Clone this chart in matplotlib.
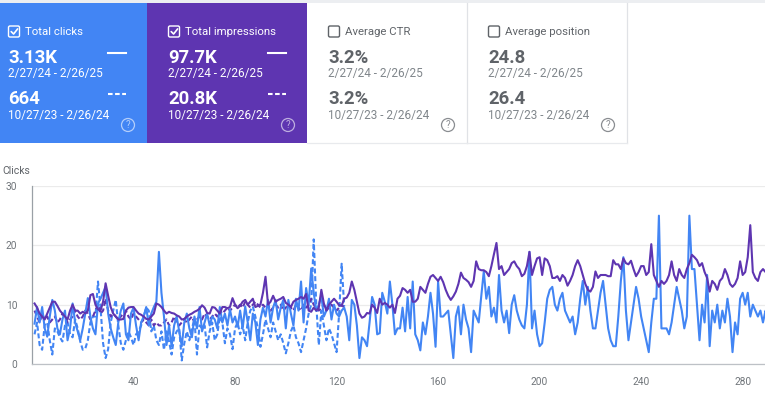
import matplotlib
matplotlib.use('Agg')
import matplotlib.pyplot as plt
from matplotlib.patches import Rectangle, Circle, FancyBboxPatch
import numpy as np

plt.rcParams['font.family'] = ['Roboto', 'DejaVu Sans']

# ---------------- data ----------------
card_titles = ["Total clicks", "Total impressions", "Average CTR", "Average position"]
card_current = ["3.13K", "97.7K", "3.2%", "24.8"]
card_previous = ["664", "20.8K", "3.2%", "26.4"]
period_current = "2/27/24 - 2/26/25"
period_previous = "10/27/23 - 2/26/24"

x_ticks = [40, 80, 120, 160, 200, 240, 280]
y_ticks = [0, 10, 20, 30]
y_label = "Clicks"

clicks_cur = [
    6.8, 9.6, 7, 9.6, 6, 4.6, 8, 10.8, 9, 6,
    5, 7.5, 9, 4, 6, 10.2, 7, 5.5, 4, 6,
    8.5, 11.1, 8, 6, 5, 10.2, 11, 12, 13, 8.5,
    6, 4.5, 3.2, 7, 9, 10.2, 5, 4, 8.5, 9.5,
    6.5, 4, 7, 8, 9.6, 6.5, 8.5, 9.6, 10.5, 18.9,
    12, 8, 3.2, 6.5, 3, 6.5, 8, 5.5, 3, 7,
    8.5, 6, 4.5, 8, 6, 9.6, 5.5, 7, 8.5, 6.5,
    8, 7.5, 6, 9.6, 7, 8.5, 6.5, 9.2, 7, 8,
    6.3, 9, 6, 9.7, 7, 4, 8.5, 7, 3.2, 7.5,
    9.5, 8, 10.8, 7, 9.5, 10.8, 7.5, 9.5, 10.8, 6,
    10.8, 8.5, 6.5, 11, 9, 13.9, 7, 12.8, 10, 16.1,
    12, 9, 10, 11.5, 8, 9, 11, 7.5, 10, 8.5,
    8, 9, 9.5, 8, 4, 10.8, 10, 6.5, 1, 4.5,
    4, 3, 7, 11.3, 10, 5, 5.2, 12, 10.5, 8.5,
    13.9, 10, 5, 6, 6, 9.5, 5.5, 11.3, 6, 13.9,
    5, 4, 2.3, 7, 5, 8, 12, 8.5, 2.9, 13.9,
    8, 8, 8.5, 9, 5, 1, 8, 9.7, 5, 10,
    7.5, 6, 2, 9, 8, 7, 11.4, 15.6, 11, 13,
    8, 9.5, 7, 15, 9, 7, 9, 5.2, 10, 11.6,
    9, 7.5, 6.5, 6, 10, 18.9, 6, 9, 5, 3,
    3.5, 7, 11, 12.5, 13, 10, 9, 11, 12, 9,
    8, 7, 8, 5, 7, 11, 14, 10, 13, 9,
    6, 6, 9, 12, 14, 10, 6, 4, 3, 3,
    8, 14, 18, 9, 4, 7, 10, 13, 11, 8,
    6, 4, 2, 7, 11, 11, 25, 6, 6, 6,
    5, 7, 10, 13, 11, 9, 6, 8, 25, 16,
    16, 10, 4, 10, 7, 15, 3, 9, 7, 10,
    6, 9, 7, 11, 8, 2, 7, 5, 11, 12,
    10, 12, 8, 10, 9, 8, 9, 7, 9, 8,
]

impr_cur = [
    10.2, 9.5, 8.5, 8, 7.5, 8.5, 9.5, 10.5, 10.5, 9.8,
    9, 8.5, 8, 7.5, 9, 10, 9, 9, 8.5, 8.8,
    8.5, 9, 11.6, 11.8, 10, 9.2, 9, 10.5, 13.6, 11.5,
    9.6, 8.5, 8, 7.5, 7.5, 7.6, 9, 9.5, 9.6, 9.6,
    9, 8.5, 8.3, 8, 7.6, 7.5, 8, 8.5, 10.2, 10,
    9.6, 9, 8.5, 8.8, 8.6, 8.5, 8.2, 8, 7.5, 7.6,
    8, 8.3, 8.5, 8.8, 9, 9.3, 9.9, 9.5, 8.6, 8.5,
    9.6, 9.5, 9, 8.5, 9.6, 9.6, 9.4, 9.6, 11.1, 10,
    9.4, 9.8, 10.5, 10.8, 10, 10.5, 11, 9.6, 9.8, 10,
    12, 14.7, 10, 10.5, 11.5, 10.5, 10.8, 11, 11.3, 10.3,
    10, 9.6, 10.5, 10.8, 11, 11.3, 11, 11.8, 9, 8.8,
    9.5, 9, 9.5, 12.5, 10.2, 9, 10, 10.5, 11, 10.5,
    9.9, 9.8, 11, 11.2, 12, 13.9, 12.5, 10.5, 8.5, 7.8,
    8, 8.6, 8.5, 10, 9.5, 8.6, 11, 10, 10.3, 10,
    9.5, 10, 8.6, 11, 11.5, 12.8, 12.5, 12, 12.5, 10.5,
    10.5, 11, 13, 12.5, 12, 13.5, 14.7, 15, 14.5, 14,
    14.7, 13.8, 12.5, 11.5, 10.8, 11.4, 12.2, 13.5, 15.4, 14.5,
    14.2, 13.8, 13, 14, 17.3, 16, 15.8, 15.8, 15.5, 14.8,
    16.5, 18.5, 20.4, 16, 16.5, 15, 15.5, 16, 17, 17.3,
    16.5, 16, 14.8, 15.2, 16.5, 18.9, 15, 16.5, 17.8, 18,
    15, 17.8, 17.5, 16.5, 14.5, 14.5, 14.8, 14, 15, 14.5,
    13.2, 14, 15, 16.5, 17.5, 16.5, 15, 13.5, 12.5, 12.2,
    13, 15.6, 14.5, 15, 15, 15, 14.8, 14.8, 17.5, 16.8,
    16.8, 16, 17.8, 17, 16.8, 17.4, 16, 14.8, 15.5, 16.5,
    16.5, 15, 15.5, 20.2, 15, 14, 13, 14, 13.5, 14,
    15, 17.3, 15, 14, 16, 15, 14.5, 16, 17, 18.4,
    18, 17.5, 16.5, 17, 15.5, 14.5, 12.2, 14, 13.5, 12.5,
    14, 14.5, 16, 15, 13.5, 13, 13.5, 14.5, 17.3, 15,
    15.5, 18, 23.4, 15.5, 14.5, 14, 15.5, 16, 15.5, 15.5,
]

clicks_prev = [
    5, 7, 3.2, 2.4, 6.6, 7, 4, 1.6, 6, 5.5,
    4.5, 3.8, 6.5, 7, 5, 4.5, 7.5, 6, 3.8, 2.4,
    2.6, 4, 7, 8, 8, 13.9, 9.5, 3.5, 1, 2.5,
    7, 9, 10.8, 6.5, 3.5, 2.4, 4, 5.5, 4.5, 3.2,
    5, 5.5, 6.5, 8, 9.5, 9, 5.5, 6.5, 4, 3.2,
    5.5, 2.4, 5.5, 3.8, 1.6, 4.5, 5.5, 6, 0.6, 3.5,
    5.5, 4, 6, 7.5, 1.6, 6.5, 6, 6.5, 2.8, 5.5,
    7, 4, 5, 8, 7, 3.5, 6, 5, 2.5, 6,
    7, 5, 6.5, 4, 7, 9, 9.7, 8, 6, 2.9,
    5, 7.5, 6, 4.5, 7, 5.5, 4, 5, 3.5, 1.8,
    3.5, 5.5, 6.5, 4.5, 3.5, 2, 4, 6, 8.5, 10,
    21, 10, 3.2, 9, 6.5, 4, 6, 5, 3.5, 2,
    8.5, 16.9, 9.7,
]

impr_prev = [
    9, 8, 7, 8.5, 7.5, 8, 7, 7.5, 8, 7,
    7.5, 8.5, 8, 7, 7.5, 8, 9, 8, 7.5, 8,
    9, 8.5, 7.5, 8, 9, 10, 8.5, 9, 11, 9,
    8, 8.5, 8, 7.5, 8, 8.5, 9, 8, 7.5, 8.5,
    8, 7.5, 7, 7.5, 7, 6.5, 7.5, 6.5, 7, 6.5,
    6.5, 7, 7.5, 6.5, 7, 8, 7, 6.5, 7, 7.5,
    7, 7.5, 8, 7, 7.5, 8, 7.5, 8.5, 8, 7.5,
    8, 8.5, 8, 9, 8.5, 9, 9.5, 9, 9.5, 10,
    9.5, 10, 9.5, 10.5, 10, 9.5, 10, 10.5, 10, 9.5,
    10, 9.5, 10, 9, 9.5, 10, 9.5, 10, 9, 9.5,
    10, 9.5, 9, 10, 9.5, 9, 10, 9.5, 10, 11,
    10, 9.5, 9, 9.5, 10, 9, 9.5, 10, 9.5, 9,
    9.5, 10, 9.5,
]

# ---------------- style ----------------
BLUE = '#4285f4'
PURPLE = '#5e35b1'
GRAY_TXT = '#5f6368'
GRAY_LT = '#80868b'
W, H = 765, 398

fig = plt.figure(figsize=(W / 100, H / 100), dpi=100)
bg = fig.add_axes([0, 0, 1, 1])
bg.set_xlim(0, W)
bg.set_ylim(H, 0)
bg.axis('off')

# top strip
bg.add_patch(Rectangle((0, 0), W, 3, color='#eceef1', lw=0, zorder=0))

card_x0 = [-13, 147, 307, 467]
card_w = 160
card_bg = [BLUE, PURPLE, 'white', 'white']
checked = [True, True, False, False]
card_top, card_bot = 3, 143

for i in range(4):
    x0 = card_x0[i]
    colored = card_bg[i] != 'white'
    fg = 'white' if colored else GRAY_TXT
    fg2 = 'white' if colored else GRAY_LT
    bg.add_patch(Rectangle((x0, card_top), card_w, card_bot - card_top,
                           facecolor=card_bg[i], edgecolor='none', zorder=1))
    if not colored:
        bg.plot([x0 + card_w, x0 + card_w], [card_top, card_bot], color='#e0e2e6', lw=0.9, zorder=2)
        bg.plot([x0, x0 + card_w], [card_bot, card_bot], color='#e8eaed', lw=0.9, zorder=2)
    # checkbox
    cb = FancyBboxPatch((x0 + 21.5, 26), 11, 11, boxstyle='round,pad=0,rounding_size=1.5',
                        facecolor='none', edgecolor=fg, lw=1.0, zorder=3)
    bg.add_patch(cb)
    if checked[i]:
        bg.plot([x0 + 24.2, x0 + 26.6, x0 + 30.6], [31.6, 34.0, 28.9], color='white', lw=1.2,
                solid_capstyle='round', zorder=4)
    bg.text(x0 + 38.5, 35.2, card_titles[i], color=fg, fontsize=8.2, va='baseline', ha='left', zorder=4)
    bg.text(x0 + 21, 63, card_current[i], color=fg, fontsize=13.3, fontweight='bold',
            va='baseline', ha='left', zorder=4)
    bg.text(x0 + 21, 77.5, period_current, color=fg2, fontsize=8.5, va='baseline', ha='left', zorder=4)
    bg.text(x0 + 21, 104, card_previous[i], color=fg, fontsize=13.3, fontweight='bold',
            va='baseline', ha='left', zorder=4)
    bg.text(x0 + 21, 118.5, period_previous, color=fg2, fontsize=8.5, va='baseline', ha='left', zorder=4)
    if colored:
        bg.plot([x0 + 121, x0 + 139], [52.5, 52.5], color='white', lw=1.5, zorder=4)
        bg.plot([x0 + 121, x0 + 139.5], [93.5, 93.5], color='white', lw=1.5, dashes=(2.2, 1.2), zorder=4)
    icol = (1, 1, 1, 0.6) if colored else '#8a8d91'
    bg.add_patch(Circle((x0 + 141, 125), 6.5, facecolor='none', edgecolor=icol, lw=0.9, zorder=4))
    bg.text(x0 + 141, 125.4, '?', color=icol, fontsize=7, ha='center', va='center', zorder=5)

bg.text(2, 171.5, y_label, color='#5f6368', fontsize=7.5, ha='left', va='center')

# ---------------- chart ----------------
ax = fig.add_axes([32 / W, (H - 364) / H, (W - 32) / W, (364 - 186) / H])
ax.set_facecolor('none')
x_cur = np.arange(1, len(clicks_cur) + 1)
x_prev = np.arange(1, len(clicks_prev) + 1)

ax.plot(x_prev, clicks_prev, color=BLUE, lw=1.5, dashes=(2.4, 1.3), zorder=2)
ax.plot(x_prev, impr_prev, color=PURPLE, lw=1.5, dashes=(2.4, 1.3), zorder=2)
ax.plot(x_cur, clicks_cur, color=BLUE, lw=1.5, zorder=3)
ax.plot(x_cur, impr_cur, color=PURPLE, lw=1.5, zorder=4)

ax.set_xlim(0, 288.8)
ax.set_ylim(0, 30)
ax.set_xticks(x_ticks)
ax.set_yticks(y_ticks)
ax.yaxis.grid(True, color='#ebebeb', lw=0.9)
ax.set_axisbelow(True)
for s in ['top', 'right']:
    ax.spines[s].set_visible(False)
ax.spines['left'].set_color('#9aa0a6')
ax.spines['left'].set_linewidth(0.9)
ax.spines['bottom'].set_color('#bdc1c6')
ax.spines['bottom'].set_linewidth(0.9)
ax.tick_params(axis='x', length=0, pad=9.5, labelsize=7.3, labelcolor='#70757a')
ax.tick_params(axis='y', length=0, pad=10.5, labelsize=7.3, labelcolor='#70757a')

fig.savefig('out.png', dpi=100)
